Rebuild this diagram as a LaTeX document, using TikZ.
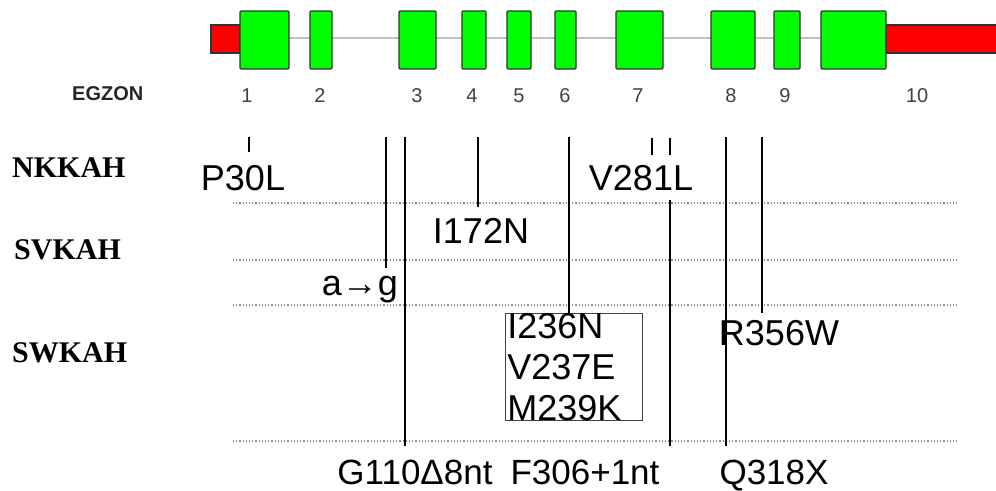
\documentclass[tikz,border=0pt]{standalone}
\usepackage{fontspec}
\setmainfont{Liberation Sans}
\newfontfamily\groupfont{Liberation Serif}
\usepackage{tikz}
\usetikzlibrary{positioning}
\definecolor{exongreen}{RGB}{0,255,0}
\definecolor{utrred}{RGB}{255,0,0}

\begin{document}
\begin{tikzpicture}[
    x=1pt, y=-1pt,
    exon/.style={draw=black!80, line width=1.2pt, fill=exongreen, rounded corners=1pt},
    utr/.style={draw=black!80, line width=1.2pt, fill=utrred},
    num/.style={font=\fontsize{20}{20}\selectfont, text=black!75, anchor=base, inner sep=0pt},
    group/.style={font=\groupfont\bfseries\fontsize{30}{30}\selectfont, anchor=base west, inner sep=0pt},
    mut/.style={font=\fontsize{36}{36}\selectfont, anchor=base, inner sep=0pt},
    mutbox/.style={draw=black!75, line width=0.8pt, font=\fontsize{36}{41}\selectfont, align=left, text width=133pt, inner xsep=2pt, inner ysep=0pt, anchor=north west},
    tick/.style={draw, line width=1.8pt},
    level/.style={draw=black!45, dotted, line width=1.2pt}
]
\useasboundingbox (0,0) rectangle (996,490);

% Gene
\draw[gray!50, line width=2.5pt] (289,38) -- (821,38);
\draw[utr] (211,25) rectangle (240,53);
\draw[utr] (886,25) rectangle (997,53);
\draw[exon] (240,11) rectangle (289,69);
\draw[exon] (310,11) rectangle (332,69);
\draw[exon] (399,11) rectangle (436,69);
\draw[exon] (462,11) rectangle (486,69);
\draw[exon] (507,11) rectangle (531,69);
\draw[exon] (555,11) rectangle (576,69);
\draw[exon] (616,11) rectangle (663,69);
\draw[exon] (711,11) rectangle (755,69);
\draw[exon] (774,11) rectangle (800,69);
\draw[exon] (821,11) rectangle (886,69);

% Exon numbers
\node[font=\bfseries\fontsize{20}{20}\selectfont, text=black!85, anchor=base west, inner sep=0pt] (egzon) at (72,100) {EGZON};
\node[num] (n1) at (247,102) {1};
\node[num] (n2) at (320,102) {2};
\node[num] (n3) at (417,102) {3};
\node[num] (n4) at (472,102) {4};
\node[num] (n5) at (519,102) {5};
\node[num] (n6) at (565,102) {6};
\node[num] (n7) at (638,102) {7};
\node[num] (n8) at (731,102) {8};
\node[num] (n9) at (785,102) {9};
\node[num] (n10) at (917,102) {10};

% Groups
\node[group] (nkkah) at (12,177) {NKKAH};
\node[group] (svkah) at (14,259) {SVKAH};
\node[group] (swkah) at (12,362) {SWKAH};

% Levels
\draw[level] (233,203) -- (958,203);
\draw[level] (233,260) -- (958,260);
\draw[level] (233,305) -- (958,305);
\draw[level] (233,441) -- (958,441);

% Mutations
\node[mut] (p30l) at (243,190) {P30L};
\node[mut] (v281l) at (641,190) {V281L};
\node[mut] (i172n) at (481,243) {I172N};
\node[mut] (ag) at (360,295) {a→g};
\node[mutbox] (box) at (505,313) {I236N\\V237E\\M239K};
\node[mut] (r356w) at (779,345) {R356W};
\node[mut, font=\fontsize{35}{35}\selectfont, text depth=0pt] (g110) at (415,484) {G110Δ8nt};
\node[mut, font=\fontsize{35}{35}\selectfont, text depth=0pt] (f306) at (585,484) {F306+1nt};
\node[mut, font=\fontsize{35}{35}\selectfont, text depth=0pt] (q318x) at (774,484) {Q318X};

% Edges
\coordinate (boxtop) at (569,137);
\draw[tick] (249,137) -- (249,152);
\draw[tick] (386,137) -- (386,268);
\draw[tick] (405,137) -- (405,446);
\draw[tick] (478,137) -- (478,207);
\draw[tick] (boxtop) -- (boxtop |- box.north);
\draw[tick] (652,138) -- (652,155);
\draw[tick] (670,138) -- (670,155);
\draw[tick] (670,200) -- (670,446);
\draw[tick] (726,137) -- (726,446);
\draw[tick] (762,137) -- (762,313);

\end{tikzpicture}
\end{document}
